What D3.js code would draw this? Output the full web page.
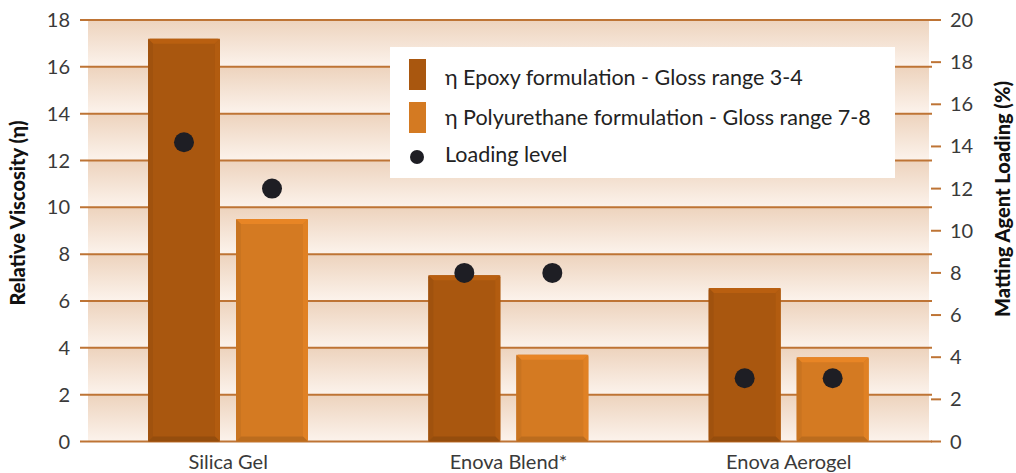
<!DOCTYPE html>
<html><head><meta charset="utf-8">
<script src="https://cdn.jsdelivr.net/npm/d3@7/dist/d3.min.js"></script>
<style>
body{margin:0;background:#fff;}
svg{display:block;font-family:"Lato","Open Sans",sans-serif;}
</style></head>
<body><svg id="c" width="1016" height="473"></svg>
<script>
const categories = ["Silica Gel", "Enova Blend*", "Enova Aerogel"];
const seriesNames = ["η Epoxy formulation - Gloss range 3-4", "η Polyurethane formulation - Gloss range 7-8"];
const epoxyViscosity = [17.2, 7.1, 6.55];
const puViscosity = [9.5, 3.7, 3.6];
const epoxyLoading = [14.2, 8.0, 3.0];
const puLoading = [12.0, 8.0, 3.0];
const leftTicks = [0,2,4,6,8,10,12,14,16,18];
const rightTicks = [0,2,4,6,8,10,12,14,16,18,20];
const colors = ["#A9570F", "#D47A22"];

const svg = d3.select("#c");
const L = 88, R = 929, T = 20, B = 441.5;
const y = d3.scaleLinear().domain([0,18]).range([B,T]);
const y2 = d3.scaleLinear().domain([0,20]).range([B,T]);
const x0 = d3.scaleBand().domain(categories).range([L,R]).padding(0);
const x1 = d3.scaleBand().domain([0,1]).range([60,220]).paddingInner(0.182).paddingOuter(0);

const defs = svg.append("defs");
const g = defs.append("linearGradient").attr("id","band").attr("x1",0).attr("x2",0).attr("y1",0).attr("y2",1);
g.append("stop").attr("offset","0%").attr("stop-color","#EDD3BD");
g.append("stop").attr("offset","100%").attr("stop-color","#FCF3EC");

for (let i=0;i<leftTicks.length-1;i++){
  svg.append("rect").attr("x",L).attr("width",R-L)
    .attr("y",y(leftTicks[i+1])).attr("height",y(leftTicks[i])-y(leftTicks[i+1]))
    .attr("fill","url(#band)");
}
svg.append("g").selectAll("line").data(leftTicks).join("line")
  .attr("x1",80).attr("x2",d=>d===18?940:932)
  .attr("y1",d=>y(d)).attr("y2",d=>y(d))
  .attr("stroke","#BE7435").attr("stroke-width",2);
svg.append("g").selectAll("line").data(rightTicks).join("line")
  .attr("x1",931).attr("x2",941)
  .attr("y1",d=>y2(d)).attr("y2",d=>y2(d))
  .attr("stroke","#BE7435").attr("stroke-width",2);

svg.append("g").selectAll("text").data(leftTicks).join("text")
  .attr("x",70).attr("y",d=>y(d)).attr("dy","0.35em").attr("text-anchor","end")
  .attr("font-size",20).attr("fill","#3a3a3a").text(d=>d);
svg.append("g").selectAll("text").data(rightTicks).join("text")
  .attr("x",950).attr("y",d=>y2(d)).attr("dy","0.35em").attr("text-anchor","start")
  .attr("font-size",20).attr("fill","#3a3a3a").text(d=>d);

const groups = svg.append("g").selectAll("g").data(categories).join("g")
  .attr("transform",d=>`translate(${x0(d)},0)`);
const barData = (c,i)=>[ {s:0,v:epoxyViscosity[i]}, {s:1,v:puViscosity[i]} ];
groups.each(function(c,i){
  const gg = d3.select(this);
  barData(c,i).forEach(b=>{
    const bx = x1(b.s), bw = x1.bandwidth(), by = y(b.v), bh = y(0)-y(b.v);
    const col = d3.color(colors[b.s]);
    gg.append("rect").attr("x",bx).attr("y",by).attr("width",bw).attr("height",bh)
      .attr("rx",2).attr("fill",colors[b.s]);
    const e = 5;
    gg.append("path").attr("d",`M${bx},${by}L${bx+bw},${by}L${bx+bw-e},${by+e}L${bx+e},${by+e}Z`)
      .attr("fill",col.brighter(0.25));
    gg.append("path").attr("d",`M${bx},${by}L${bx+e},${by+e}L${bx+e},${by+bh-e}L${bx},${by+bh}Z`)
      .attr("fill",col.darker(0.15));
    gg.append("path").attr("d",`M${bx+bw},${by}L${bx+bw-e},${by+e}L${bx+bw-e},${by+bh-e}L${bx+bw},${by+bh}Z`)
      .attr("fill",col.brighter(0.15));
    gg.append("path").attr("d",`M${bx},${by+bh}L${bx+e},${by+bh-e}L${bx+bw-e},${by+bh-e}L${bx+bw},${by+bh}Z`)
      .attr("fill",col.darker(0.35));
  });
  [epoxyLoading[i], puLoading[i]].forEach((v,s)=>{
    gg.append("circle").attr("cx",x1(s)+x1.bandwidth()/2).attr("cy",y2(v)).attr("r",10)
      .attr("fill","#1E1E24");
  });
});

svg.append("g").selectAll("text").data(categories).join("text")
  .attr("x",d=>x0(d)+x0.bandwidth()/2).attr("y",469).attr("text-anchor","middle")
  .attr("font-size",20).attr("fill","#3a3a3a").text(d=>d);

svg.append("text").attr("transform","translate(25,213) rotate(-90)").attr("text-anchor","middle")
  .attr("font-size",20).attr("font-weight","900").attr("fill","#111").text("Relative Viscosity (η)");
svg.append("text").attr("transform","translate(1010,199) rotate(-90)").attr("text-anchor","middle")
  .attr("font-size",20).attr("font-weight","900").attr("fill","#111").text("Matting Agent Loading (%)");

const lg = svg.append("g");
lg.append("rect").attr("x",390).attr("y",47).attr("width",505).attr("height",131).attr("fill","#fff");
[0,1].forEach(s=>{
  lg.append("rect").attr("x",409).attr("y",s?102:59).attr("width",17).attr("height",31).attr("fill",colors[s]);
  lg.append("text").attr("x",445).attr("y",s?125:85).attr("font-size",21.5).attr("fill","#222").text(seriesNames[s]);
});
lg.append("circle").attr("cx",417).attr("cy",157).attr("r",7).attr("fill","#1E1E24");
lg.append("text").attr("x",445).attr("y",162).attr("font-size",21.5).attr("fill","#222").text("Loading level");
</script></body></html>
